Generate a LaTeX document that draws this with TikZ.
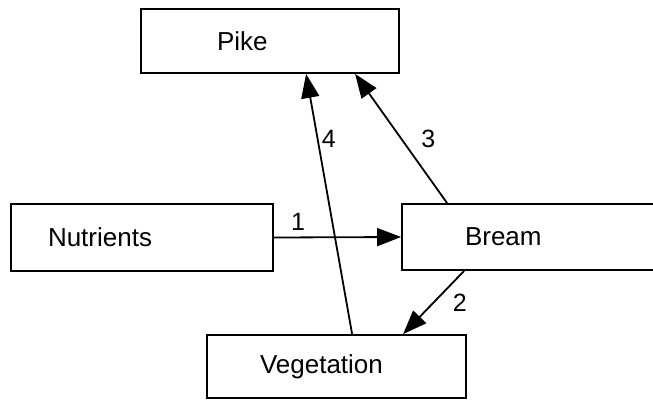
\documentclass[tikz,border=0pt]{standalone}
\usepackage{fontspec}
\setmainfont{Liberation Sans}
\usepackage{tikz}
\usetikzlibrary{arrows.meta,positioning,calc}

\begin{document}
\begin{tikzpicture}[
  x=1pt, y=-1pt,
  box/.style={rectangle, draw=black, line width=1.8pt, fill=white,
              align=left, font=\fontsize{26}{30}\selectfont, inner ysep=0pt},
  num/.style={font=\fontsize{25}{30}\selectfont},
  >={Triangle[length=24pt,width=18pt]}, line width=1.8pt
]
  \useasboundingbox (0,0) rectangle (653,399);

  \node[box, minimum width=258, minimum height=64, inner xsep=76pt, text width=106pt]
        (pike) at (270,41)    {Pike};
  \node[box, minimum width=262, minimum height=67, inner xsep=37pt, text width=188pt]
        (nutr) at (142,237.5) {Nutrients};
  \node[box, minimum width=278, minimum height=66, inner xsep=63pt, text width=152pt]
        (bream) at (541,237)  {Bream};
  \node[box, minimum width=259, minimum height=63, inner xsep=53pt, text width=153pt]
        (veg) at (336.5,366.5) {Vegetation};

  \draw[->] (nutr.east) -- node[num, above=3pt, pos=0.19]{1} (bream.west);
  \draw[->] ([xshift=63]bream.south west) -- node[num, right=15pt]{2}
            ([xshift=197]veg.north west);
  \draw[->] ([xshift=46]bream.north west) -- node[num, right=16pt]{3}
            ([xshift=215]pike.south west);
  \draw[->] ([xshift=146]veg.north west) -- node[num, right, pos=0.75]{4}
            ([xshift=166]pike.south west);
\end{tikzpicture}
\end{document}
